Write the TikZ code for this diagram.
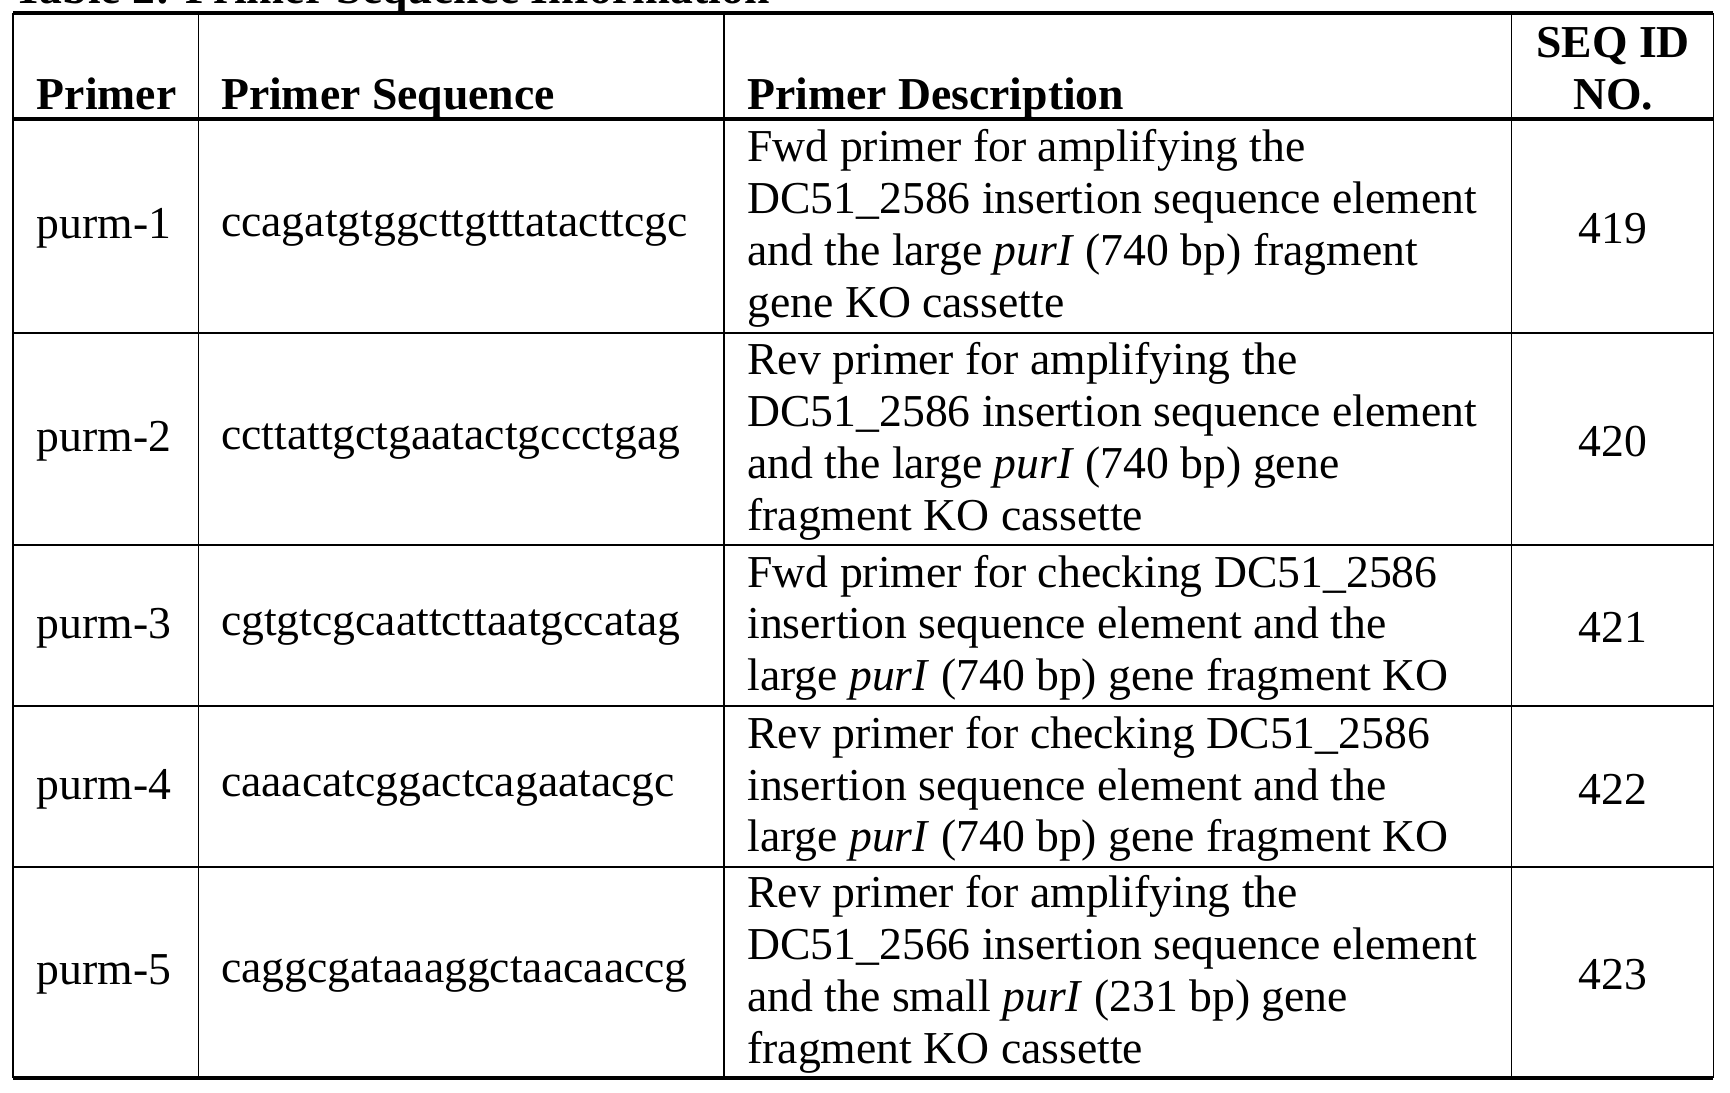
\documentclass[tikz,border=0pt]{standalone}
\usepackage{fontspec}
\setmainfont{Liberation Serif}
\begin{document}
\begin{tikzpicture}[x=0.5pt,y=-0.5pt,
  txt/.style={inner sep=0pt,font=\fontsize{20.7}{23.5}\selectfont,align=left},
  hd/.style={txt,font=\fontsize{20.7}{23.5}\selectfont\bfseries},
  thin/.style={line width=0.8pt},
  thick/.style={line width=1.6pt}]
\useasboundingbox (0,0) rectangle (1568,990);
\node[hd,anchor=base west] (title) at (12,3) {Table 2: Primer Sequence Information};
% lines
\draw[thick] (12,12) -- (1553,12);
\draw[thick] (12,108) -- (1553,108);
\foreach \y in {302,494,640,786} \draw[thin] (12,\y) -- (1553,\y);
\draw[thick] (12,977) -- (1553,977);
\foreach \x in {12,180,656,1370,1553} \draw[thin] (\x,12) -- (\x,977);
% header
\node[hd,anchor=base west] (h1) at (33,99) {Primer};
\node[hd,anchor=base west] (h2) at (200,99) {Primer Sequence};
\node[hd,anchor=base west] (h3) at (677,99) {Primer Description};
\node[hd,anchor=base,align=center] (h4) at (1462,99) {SEQ ID\\NO.};
% rows
\newcommand{\prow}[6]{%
  \node[txt,anchor=west] (p#1) at (33,#2) {#3};
  \node[txt,anchor=west] (s#1) at (200,#2) {#4};
  \node[txt,anchor=west] (d#1) at (677,#2) {#5};
  \node[txt,anchor=center] (n#1) at (1462,#2) {#6};}
\prow{1}{207}{purm-1}{ccagatgtggcttgtttatacttcgc}{Fwd primer for amplifying the\\DC51\_2586 insertion sequence element\\and the large \textit{purI} (740 bp) fragment\\gene KO cassette}{419}
\prow{2}{400}{purm-2}{ccttattgctgaatactgccctgag}{Rev primer for amplifying the\\DC51\_2586 insertion sequence element\\and the large \textit{purI} (740 bp) gene\\fragment KO cassette}{420}
\prow{3}{569}{purm-3}{cgtgtcgcaattcttaatgccatag}{Fwd primer for checking DC51\_2586\\insertion sequence element and the\\large \textit{purI} (740 bp) gene fragment KO}{421}
\prow{4}{715}{purm-4}{caaacatcggactcagaatacgc}{Rev primer for checking DC51\_2586\\insertion sequence element and the\\large \textit{purI} (740 bp) gene fragment KO}{422}
\prow{5}{883}{purm-5}{caggcgataaaggctaacaaccg}{Rev primer for amplifying the\\DC51\_2566 insertion sequence element\\and the small \textit{purI} (231 bp) gene\\fragment KO cassette}{423}
\end{tikzpicture}
\end{document}
